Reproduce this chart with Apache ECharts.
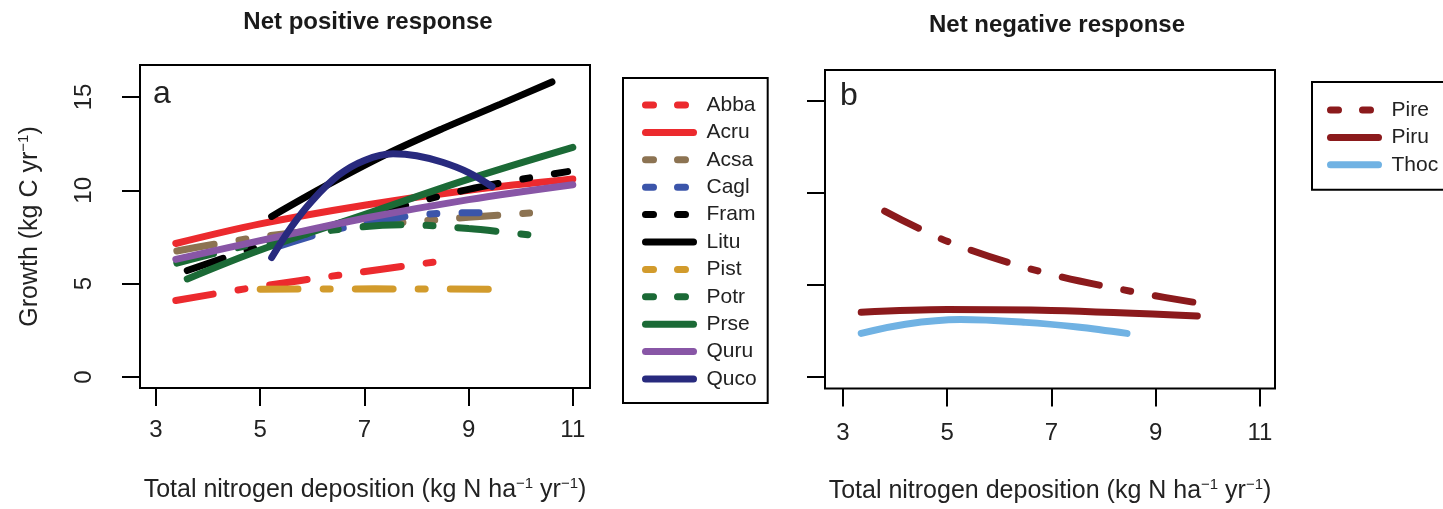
<!DOCTYPE html>
<html>
<head>
<meta charset="utf-8">
<script src="https://cdn.jsdelivr.net/npm/echarts@6/dist/echarts.min.js"></script>
<style>
  html, body { margin: 0; padding: 0; background: #fff; }
  #chart { width: 1443px; height: 509px; }
</style>
</head>
<body>
<div id="chart"></div>
<script>
// tick labels
const xTicks = [3, 5, 7, 9, 11];
const yTicks = [0, 5, 10, 15];

// panel a: net positive response, [N deposition, growth]
const abba = [[3.38, 4.1], [5, 4.85], [6.5, 5.45], [8.45, 6.2]];
const acru = [[3.38, 7.15], [5, 8.2], [7, 9.2], [9, 10.0], [11, 10.6]];
const acsa = [[3.4, 6.75], [5, 7.5], [7, 8.1], [9, 8.55], [10.5, 8.85]];
const cagl = [[5.3, 6.95], [6.3, 7.8], [7.2, 8.3], [8.1, 8.7], [9.2, 8.8]];
const fram = [[3.6, 5.7], [5, 7.0], [7, 8.6], [9, 10.05], [10.9, 11.0]];
const litu = [[5.22, 8.6], [6.3, 10.3], [7.4, 11.9], [8.5, 13.3], [9.6, 14.6], [10.6, 15.8]];
const pist = [[5.0, 4.7], [7.2, 4.72], [9.45, 4.7]];
const potr = [[3.4, 6.1], [5, 7.2], [6.5, 7.9], [7.8, 8.15], [9, 7.95], [10.2, 7.6]];
const prse = [[3.6, 5.25], [5, 6.8], [7, 8.7], [9, 10.6], [11, 12.3]];
const quru = [[3.38, 6.3], [5, 7.3], [7, 8.5], [9, 9.5], [11, 10.3]];
const quco = [[5.22, 6.4], [5.6, 8.05], [6, 9.45], [6.5, 10.8], [7, 11.6], [7.55, 11.95], [8, 11.85], [8.5, 11.5], [9, 10.95], [9.45, 10.2]];

// panel b: net negative response
const pire = [[3.8, 9.0], [5.05, 7.3], [6.8, 5.7], [8.6, 4.6], [10.05, 3.9]];
const piru = [[3.35, 3.5], [5, 3.65], [7, 3.6], [9.8, 3.3]];
const thoc = [[3.35, 2.35], [4.2, 2.85], [5.25, 3.1], [6.5, 2.95], [7.5, 2.7], [8.45, 2.35]];

const namesA = ['Abba', 'Acru', 'Acsa', 'Cagl', 'Fram', 'Litu', 'Pist', 'Potr', 'Prse', 'Quru', 'Quco'];
const namesB = ['Pire', 'Piru', 'Thoc'];

const font = 'Liberation Sans, Arial, Helvetica, sans-serif';
const plotDash = [38, 25, 7, 25];
const legendDash = [8, 24];
const dashedNames = ['Abba', 'Acsa', 'Cagl', 'Fram', 'Pist', 'Potr', 'Pire'];

let mkLine = (name, data, color, gi) => ({
    name: name,
    type: 'line',
    xAxisIndex: gi,
    yAxisIndex: gi,
    data: data,
    symbol: 'none',
    smooth: 0.35,
    silent: true,
    color: color,
    lineStyle: {color: color, width: 7, cap: 'round', type: dashedNames.includes(name) ? plotDash : 'solid'}
});

let series = [
    mkLine('Abba', abba, '#ec2a2e', 0),
    mkLine('Acru', acru, '#ec2a2e', 0),
    mkLine('Acsa', acsa, '#8c7352', 0),
    mkLine('Cagl', cagl, '#3b55aa', 0),
    mkLine('Fram', fram, '#000000', 0),
    mkLine('Litu', litu, '#000000', 0),
    mkLine('Pist', pist, '#d29b2c', 0),
    mkLine('Potr', potr, '#1b6a36', 0),
    mkLine('Prse', prse, '#1b6a36', 0),
    mkLine('Quru', quru, '#8856a6', 0),
    mkLine('Quco', quco, '#282a7e', 0),
    mkLine('Pire', pire, '#8b1a1c', 1),
    mkLine('Piru', piru, '#8b1a1c', 1),
    mkLine('Thoc', thoc, '#70b2e3', 1)
];

let legendData = (names) => names.map(n => ({
    name: n,
    lineStyle: {type: dashedNames.includes(n) ? legendDash : 'solid'}
}));

let xName = '{t|Total nitrogen deposition (kg N ha}{s|\u22121}{t| yr}{s|\u22121}{t|)}';
let nameRich = {
    t: {fontSize: 25, color: '#222', fontFamily: font, lineHeight: 28},
    s: {fontSize: 15, color: '#222', fontFamily: font, lineHeight: 14, verticalAlign: 'top'}
};

let mkX = (gi, min, max, margin, gap) => ({
    type: 'value',
    gridIndex: gi,
    min: min,
    max: max,
    name: xName,
    nameLocation: 'middle',
    nameGap: gap,
    nameTextStyle: {rich: nameRich},
    axisLine: {show: false, onZero: false},
    axisTick: {show: true, length: 18, customValues: xTicks, lineStyle: {color: '#000', width: 2}},
    axisLabel: {customValues: xTicks, margin: margin, fontSize: 24, lineHeight: 24, color: '#222', fontFamily: font},
    splitLine: {show: false}
});

let mkY = (gi, min, max, labels) => ({
    type: 'value',
    gridIndex: gi,
    min: min,
    max: max,
    name: labels ? '{t|Growth (kg C yr}{s|\u22121}{t|)}' : '',
    nameLocation: 'middle',
    nameRotate: 90,
    nameGap: 96,
    nameTextStyle: {rich: nameRich},
    axisLine: {show: false, onZero: false},
    axisTick: {show: true, length: 18, customValues: yTicks, lineStyle: {color: '#000', width: 2}},
    axisLabel: {show: labels, customValues: yTicks, rotate: 90, margin: 44, fontSize: 24, lineHeight: 24, color: '#222', fontFamily: font},
    splitLine: {show: false}
});

let mkLegend = (names, left, top, padding) => ({
    data: legendData(names),
    orient: 'vertical',
    left: left,
    top: top,
    itemWidth: 48,
    itemHeight: 22,
    itemGap: 5.4,
    padding: padding,
    borderColor: '#000',
    borderWidth: 2,
    selectedMode: false,
    textStyle: {fontSize: 21, lineHeight: 22, color: '#222', fontFamily: font, padding: [0, 0, 0, 8]},
    itemStyle: {color: 'transparent', borderColor: 'transparent', borderWidth: 0, opacity: 0},
    lineStyle: {width: 7, cap: 'round'}
});

let option = {
    animation: false,
    backgroundColor: '#fff',
    textStyle: {fontFamily: font},
    title: [
        {text: 'Net positive response', left: 363, top: 5, textAlign: 'center',
         textStyle: {fontSize: 24, fontWeight: 'bold', color: '#1a1a1a', fontFamily: font}},
        {text: 'Net negative response', left: 1052, top: 8, textAlign: 'center',
         textStyle: {fontSize: 24, fontWeight: 'bold', color: '#1a1a1a', fontFamily: font}}
    ],
    grid: [
        {left: 140, top: 65, width: 450, height: 323, show: true, borderColor: '#000', borderWidth: 2, backgroundColor: 'transparent'},
        {left: 825, top: 70, width: 450, height: 322, show: true, borderColor: '#000', borderWidth: 2, backgroundColor: 'transparent'}
    ],
    xAxis: [mkX(0, 2.693, 11.33, 30, 88), mkX(1, 2.655, 11.29, 33, 89)],
    yAxis: [mkY(0, -0.59, 16.71, true), mkY(1, -0.645, 16.67, false)],
    legend: [
        mkLegend(namesA, 623, 78, [16, 11, 13, 19]),
        mkLegend(namesB, 1312, 82, [17, 30, 14, 15])
    ],
    graphic: [
        {type: 'text', left: 153, top: 78, style: {text: 'a', fontSize: 32, fill: '#222', fontFamily: font}},
        {type: 'text', left: 840, top: 80, style: {text: 'b', fontSize: 32, fill: '#222', fontFamily: font}}
    ],
    series: series
};

let chart = echarts.init(document.getElementById('chart'));
chart.setOption(option);
</script>
</body>
</html>
